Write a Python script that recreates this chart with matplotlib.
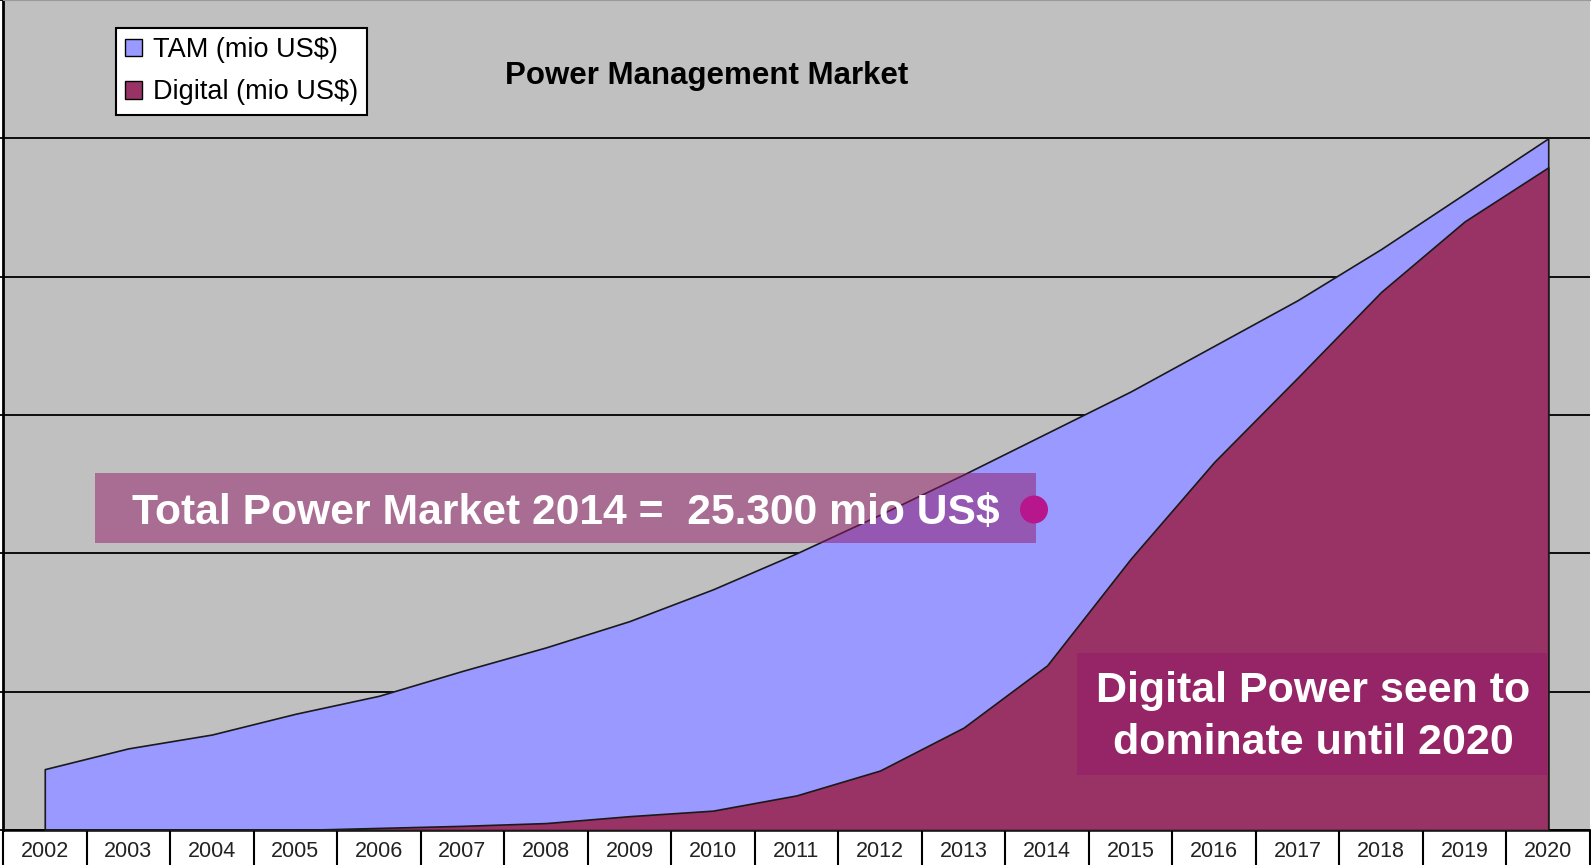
import numpy as np
import matplotlib
matplotlib.use("Agg")
import matplotlib.pyplot as plt
from matplotlib.patches import Rectangle, Ellipse, Patch

plt.rcParams['font.family'] = ['Liberation Sans', 'DejaVu Sans']

# data (mio US$)
years = ["2002", "2003", "2004", "2005", "2006", "2007", "2008", "2009", "2010",
         "2011", "2012", "2013", "2014", "2015", "2016", "2017", "2018", "2019", "2020"]
tam = [4400, 5900, 6900, 8400, 9700, 11500, 13200, 15100, 17400, 20000,
       22800, 25700, 28700, 31700, 35000, 38300, 42000, 46000, 50000]
digital = [0, 0, 0, 0, 150, 300, 500, 1000, 1400, 2500,
           4300, 7400, 11900, 19600, 26600, 32700, 38900, 44000, 47900]

W, H = 1591, 865
fig = plt.figure(figsize=(W / 100, H / 100), dpi=100, facecolor="white")


def fx(x):
    return x / W


def fy(y):
    # y given from the top of the picture
    return 1 - y / H


ax = fig.add_axes([fx(3), fy(830), fx(1587), 830 / H])
ax.set_facecolor("#C0C0C0")

x = np.arange(len(years))
ax.fill_between(x, tam, color="#9999FF", edgecolor="#1a1a1a", linewidth=1.2, zorder=2)
ax.fill_between(x, digital, color="#993366", edgecolor="#1a1a1a", linewidth=1.2, zorder=3)

ax.set_xlim(-0.5, len(years) - 0.5)
ax.set_ylim(0, 60000)
ax.set_yticks(np.arange(0, 60001, 10000))
ax.yaxis.grid(True, color="black", linewidth=1.3)
ax.set_axisbelow(True)
ax.tick_params(axis="y", length=3, width=1.3, labelleft=False)

# category table below the axis
ax.set_xticks(np.arange(-0.5, len(years), 1.0))
ax.tick_params(axis="x", length=26, width=1.5, direction="out", labelbottom=False)
for i, yr in enumerate(years):
    ax.text(i, -21.5 / 830, yr, transform=ax.get_xaxis_transform(),
            ha="center", va="center", fontsize=15.5, color="#222222")

ax.spines["right"].set_visible(False)
ax.spines["top"].set_color("#9a9a9a")
ax.spines["left"].set_linewidth(2)
ax.spines["bottom"].set_linewidth(1.8)

handles = [Patch(facecolor="#9999FF", edgecolor="black", label="TAM (mio US$)"),
           Patch(facecolor="#993366", edgecolor="black", label="Digital (mio US$)")]
leg = ax.legend(handles=handles, loc="upper left",
                bbox_to_anchor=((116 - 3) / 1587, 1 - 28 / 830),
                borderaxespad=0, fontsize=19.5, frameon=True, fancybox=False,
                handlelength=0.62, handleheight=0.62, handletextpad=0.4,
                labelspacing=0.6, borderpad=0.34)
leg.get_frame().set_edgecolor("black")
leg.get_frame().set_linewidth(1.5)
leg.get_frame().set_facecolor("white")
leg.get_frame().set_alpha(1)

fig.text(fx(707), fy(76), "Power Management Market", ha="center", va="center",
         fontsize=22.5, fontweight="bold", color="black")

# callout boxes
fig.patches.append(Rectangle((fx(95), fy(543)), fx(1036 - 95), (543 - 473) / H,
                             transform=fig.transFigure, facecolor=(147 / 255, 25 / 255, 102 / 255),
                             alpha=0.5, edgecolor="none", zorder=5))
fig.text(fx(566), fy(513), "Total Power Market 2014 =  25.300 mio US$", ha="center",
         va="center", fontsize=30.7, fontweight="bold", color="white", zorder=6)
fig.patches.append(Ellipse((fx(1034), fy(509.5)), fx(28), 28 / H,
                           transform=fig.transFigure, facecolor="#B8168C",
                           edgecolor="none", zorder=6))

fig.patches.append(Rectangle((fx(1077), fy(775)), fx(1547 - 1077), (775 - 653) / H,
                             transform=fig.transFigure, facecolor=(147 / 255, 25 / 255, 102 / 255),
                             alpha=0.5, edgecolor="none", zorder=5))
fig.text(fx(1313), fy(717), "Digital Power seen to\ndominate until 2020", ha="center",
         va="center", fontsize=31, fontweight="bold", color="white", zorder=6,
         linespacing=1.38, multialignment="center")

fig.savefig("out.png", dpi=100, facecolor="white")
